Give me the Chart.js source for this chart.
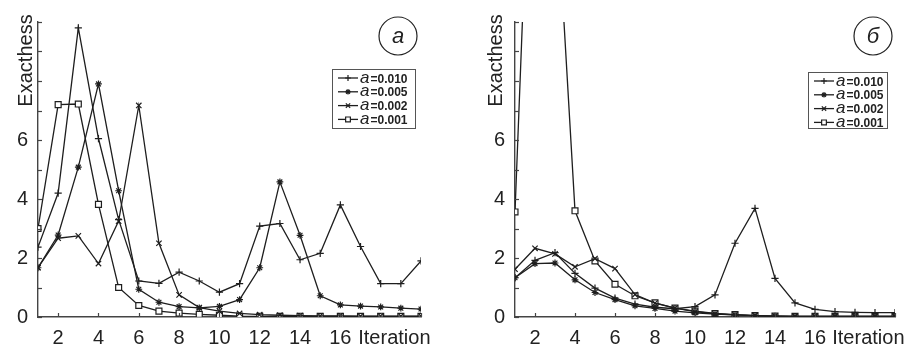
<!DOCTYPE html>
<html><head><meta charset="utf-8">
<script src="https://cdn.jsdelivr.net/npm/chart.js"></script>
<style>
html,body{margin:0;padding:0;background:#fff;width:907px;height:352px;overflow:hidden}
.p{position:absolute;top:0;height:352px}
</style></head><body>
<div class="p" style="left:0;width:453px"><canvas id="ca"></canvas></div>
<div class="p" style="left:453px;width:454px"><canvas id="cb"></canvas></div>
<script>
// ---- data ----
const iterations = [1,2,3,4,5,6,7,8,9,10,11,12,13,14,15,16,17,18,19,20];
const xTickLabels = [2,4,6,8,10,12,14,16];
const yTickLabels = [0,2,4,6];
const seriesNames = ['0.010','0.005','0.002','0.001'];
const panelLetters = ['a','б'];
const axisTitleY = 'Exacthess';
const axisTitleX = 'Iteration';

// panel a
const a010 = [2.37,4.2,9.8,6.05,3.3,1.22,1.14,1.52,1.22,0.84,1.13,3.08,3.17,1.94,2.16,3.8,2.39,1.13,1.13,1.9];
const a005 = [1.67,2.78,5.08,7.9,4.28,0.94,0.5,0.35,0.31,0.36,0.59,1.67,4.58,2.77,0.72,0.41,0.37,0.34,0.3,0.27];
const a002 = [1.67,2.67,2.75,1.81,3.25,7.17,2.5,0.75,0.32,0.2,0.12,0.08,0.06,0.05,0.04,0.04,0.03,0.03,0.03,0.03];
const a001 = [3.0,7.2,7.22,3.82,1.0,0.39,0.2,0.13,0.09,0.06,0.03,0.02,0.02,0.02,0.02,0.02,0.02,0.02,0.02,0.02];
// panel б
const b010 = [1.33,1.92,2.18,1.48,0.98,0.64,0.44,0.33,0.28,0.35,0.75,2.5,3.68,1.31,0.48,0.26,0.18,0.16,0.15,0.15];
const b005 = [1.33,1.81,1.83,1.26,0.83,0.59,0.38,0.29,0.2,0.14,0.1,0.07,0.05,0.03,0.02,0.02,0.02,0.02,0.02,0.02];
const b002 = [1.62,2.33,2.14,1.7,1.98,1.64,0.76,0.47,0.3,0.18,0.11,0.07,0.05,0.03,0.02,0.02,0.02,0.02,0.02,0.02];
const b001 = [3.56,21,15.2,3.6,1.9,1.11,0.72,0.48,0.3,0.2,0.12,0.08,0.05,0.03,0.02,0.02,0.02,0.02,0.02,0.02];

// ---- styling ----
const FONT = "'Liberation Sans', Arial, sans-serif";
const INK = '#1e1e1e';
const styles = [
  {pointStyle:'cross', radius:3.6, bg:INK},
  {pointStyle:'star', radius:3.4, bg:INK},
  {pointStyle:'crossRot', radius:3.8, bg:INK},
  {pointStyle:'rect', radius:4.2, bg:'#fff'}
];

function drawPt(ctx, st, x, y){
  ctx.save();
  ctx.strokeStyle = INK; ctx.fillStyle = st.bg; ctx.lineWidth = 1.2;
  if (Chart.helpers && Chart.helpers.drawPoint) {
    Chart.helpers.drawPoint(ctx, {pointStyle: st.pointStyle, radius: st.radius, borderWidth: 1.2, rotation: 0}, x, y);
  }
  ctx.restore();
}

function makePanel(id, vals, cfg){
  const datasets = vals.map((v,i)=>({
    label: 'a =' + seriesNames[i],
    data: iterations.map((it,k)=>({x:it, y:v[k]})),
    borderColor: INK, borderWidth: 1.3,
    pointStyle: styles[i].pointStyle, pointRadius: styles[i].radius,
    pointBackgroundColor: styles[i].bg, pointBorderColor: INK, pointBorderWidth: 1.2,
    tension: 0, fill: false
  }));
  const deco = {
    id: 'deco',
    afterDraw(chart){
      const ctx = chart.ctx, xs = chart.scales.x, ys = chart.scales.y;
      ctx.save();
      // inner ticks
      ctx.strokeStyle = '#444'; ctx.lineWidth = 1.2;
      for (let v = 0; v <= 10; v++) {
        const y = Math.round(ys.getPixelForValue(v)) + 0.5;
        ctx.beginPath(); ctx.moveTo(xs.left, y); ctx.lineTo(xs.left + 4, y); ctx.stroke();
      }
      iterations.filter(t => t % 2 === 0).forEach(t => {
        const x = Math.round(xs.getPixelForValue(t)) + 0.5;
        ctx.beginPath(); ctx.moveTo(x, ys.bottom); ctx.lineTo(x, ys.bottom - 4); ctx.stroke();
      });
      // axis titles
      ctx.fillStyle = '#222';
      ctx.font = '20px ' + FONT;
      ctx.textAlign = 'right'; ctx.textBaseline = 'middle';
      ctx.fillText(axisTitleX, xs.getPixelForValue(20) + 9.5, ys.bottom + 21);
      ctx.save();
      ctx.translate(cfg.ylabX, 60.5);
      ctx.rotate(-Math.PI/2);
      ctx.textAlign = 'center'; ctx.textBaseline = 'alphabetic';
      ctx.fillText(axisTitleY, 0, 0);
      ctx.restore();
      // circled letter
      ctx.strokeStyle = '#222'; ctx.lineWidth = 1.2;
      ctx.beginPath(); ctx.arc(cfg.cx, cfg.cy, 19, 0, Math.PI*2); ctx.stroke();
      ctx.font = 'italic 22px ' + FONT;
      ctx.textAlign = 'center'; ctx.textBaseline = 'middle';
      ctx.fillText(cfg.letter, cfg.cx, cfg.cy + 1);
      // legend
      const L = cfg.leg;
      ctx.fillStyle = '#fff';
      ctx.fillRect(L.x, L.y, L.w, L.h);
      ctx.strokeStyle = '#555'; ctx.lineWidth = 1;
      ctx.strokeRect(L.x + 0.5, L.y + 0.5, L.w, L.h);
      seriesNames.forEach((n, i) => {
        const ry = L.y + 9 + i * 13.8;
        ctx.strokeStyle = INK; ctx.lineWidth = 1.3;
        ctx.beginPath(); ctx.moveTo(L.x + 6, ry); ctx.lineTo(L.x + 26, ry); ctx.stroke();
        drawPt(ctx, {...styles[i], radius: styles[i].radius * 0.8}, L.x + 16, ry);
        ctx.fillStyle = '#222';
        ctx.textAlign = 'left'; ctx.textBaseline = 'alphabetic';
        ctx.font = 'italic 17px ' + FONT;
        ctx.fillText('a', L.x + 28, ry + 4.5);
        const wa = ctx.measureText('a').width;
        ctx.font = 'bold 12px ' + FONT;
        ctx.fillText('=' + n, L.x + 28 + wa + 1, ry + 4.5);
      });
      ctx.restore();
    }
  };
  return new Chart(document.getElementById(id), {
    type: 'line',
    data: { datasets },
    plugins: [deco],
    options: {
      responsive: true, maintainAspectRatio: false, animation: false,
      layout: { padding: { left: cfg.padL, right: cfg.padR, top: 15, bottom: 0 } },
      plugins: { legend: { display: false }, tooltip: { enabled: false } },
      scales: {
        x: {
          type: 'linear', min: 1, max: 20,
          grid: { display: false, drawTicks: false },
          border: { display: true, color: '#444', width: 1.4 },
          ticks: {
            stepSize: 1, autoSkip: false, maxRotation: 0, padding: 9,
            color: '#222', font: { family: FONT, size: 20 },
            callback: v => xTickLabels.includes(v) ? String(v) : ''
          },
          afterFit: s => { s.height = 35; }
        },
        y: {
          min: 0, max: 10,
          grid: { display: false, drawTicks: false },
          border: { display: true, color: '#444', width: 1.4 },
          ticks: {
            stepSize: 1, autoSkip: false, padding: 10,
            color: '#222', font: { family: FONT, size: 20 },
            callback: v => yTickLabels.includes(v) ? String(v) : ''
          },
          afterFit: s => { s.width = 38; }
        }
      }
    }
  });
}

makePanel('ca', [a010, a005, a002, a001], {
  padL: 0, padR: 32, ylabX: 32, cx: 398, cy: 36, letter: panelLetters[0],
  leg: { x: 332, y: 69, w: 83, h: 59 }
});
makePanel('cb', [b010, b005, b002, b001], {
  padL: 24, padR: 12, ylabX: 49, cx: 420, cy: 36, letter: panelLetters[1],
  leg: { x: 355, y: 72, w: 79, h: 56 }
});
</script>
</body></html>
